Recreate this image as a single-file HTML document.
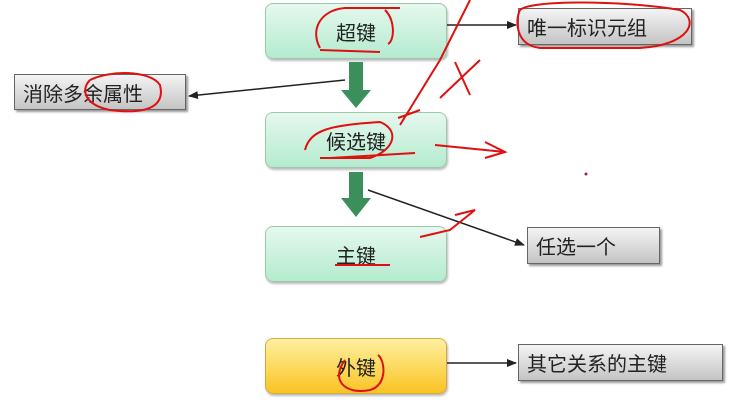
<!DOCTYPE html>
<html><head><meta charset="utf-8"><style>
body{margin:0;width:748px;height:420px;background:#fff;position:relative;overflow:hidden;font-family:"Liberation Sans","Noto Sans CJK SC",sans-serif}
.g{position:absolute;left:265px;width:180px;height:54px;border-radius:8px;border:1px solid #9cc9ae;background:linear-gradient(#e6f8ee,#b4ebcf);box-shadow:1px 2px 2px #bbb;font-size:20px;color:#222;display:flex;align-items:center;justify-content:center}
.o{background:linear-gradient(#fff0a0,#f9c423);border-color:#d8a840}
.b{position:absolute;border:1px solid #666;background:linear-gradient(#f4f4f4,#c4c4c4);box-shadow:2px 2px 2px #999;font-size:20px;color:#222;display:flex;align-items:center;padding-left:8px;box-sizing:border-box}
svg{position:absolute;left:0;top:0}
</style></head><body>
<div class="g" style="top:3px">超键</div>
<div class="g" style="top:112px">候选键</div>
<div class="g" style="top:226px">主键</div>
<div class="g o" style="top:338px">外键</div>
<div class="b" style="left:518px;top:8px;width:174px;height:37px">唯一标识元组</div>
<div class="b" style="left:14px;top:74px;width:172px;height:36px">消除多余属性</div>
<div class="b" style="left:527px;top:227px;width:133px;height:37px">任选一个</div>
<div class="b" style="left:518px;top:344px;width:205px;height:37px">其它关系的主键</div>
<svg width="748" height="420">
<defs><marker id="a" markerWidth="10" markerHeight="8" refX="9" refY="4" orient="auto" markerUnits="userSpaceOnUse"><path d="M0,0 L10,4 L0,8z" fill="#222"/></marker></defs>
<g fill="#3a8f5a"><path d="M349,62h14v28h8l-15,18l-15,-18h8z"/><path d="M349,172h14v26h8l-15,19l-15,-19h8z"/></g>
<g stroke="#222" stroke-width="1.5" fill="none">
<line x1="447" y1="25" x2="516" y2="25" marker-end="url(#a)"/>
<line x1="345" y1="80" x2="189" y2="96" marker-end="url(#a)"/>
<line x1="368" y1="190" x2="524" y2="245" marker-end="url(#a)"/>
<line x1="447" y1="363" x2="516" y2="363" marker-end="url(#a)"/>
</g>
<g stroke="#e01010" stroke-width="2" fill="none">
<path d="M320,48 C310,30 320,10 345,8 L400,8 M385,10 C395,20 395,40 388,44 M320,50 L380,52"/>
<path d="M470,0 L440,60 L400,125 M398,118 L420,110"/>
<path d="M455,62 L470,95 M440,98 L480,60"/>
<path d="M305,150 C310,130 330,125 380,122 C400,130 395,150 370,158 L320,158 M330,158 L415,153"/>
<path d="M435,145 L505,152 M485,142 L505,152 L485,158"/>
<path d="M420,237 L450,230 L475,210 L455,215"/>
<path d="M335,265 L390,265"/>
<path d="M345,360 C330,380 345,395 370,390 C388,385 385,360 378,355"/>
<path d="M520,10 C530,0 620,0 680,10 C700,20 690,45 640,48 L540,48 C515,45 515,20 520,10"/>
<path d="M90,80 C110,70 150,70 160,85 C165,105 150,115 110,110 C85,105 80,90 90,80"/>
</g>
<circle cx="586" cy="174" r="1.5" fill="#a02040"/>
</svg>
</body></html>
